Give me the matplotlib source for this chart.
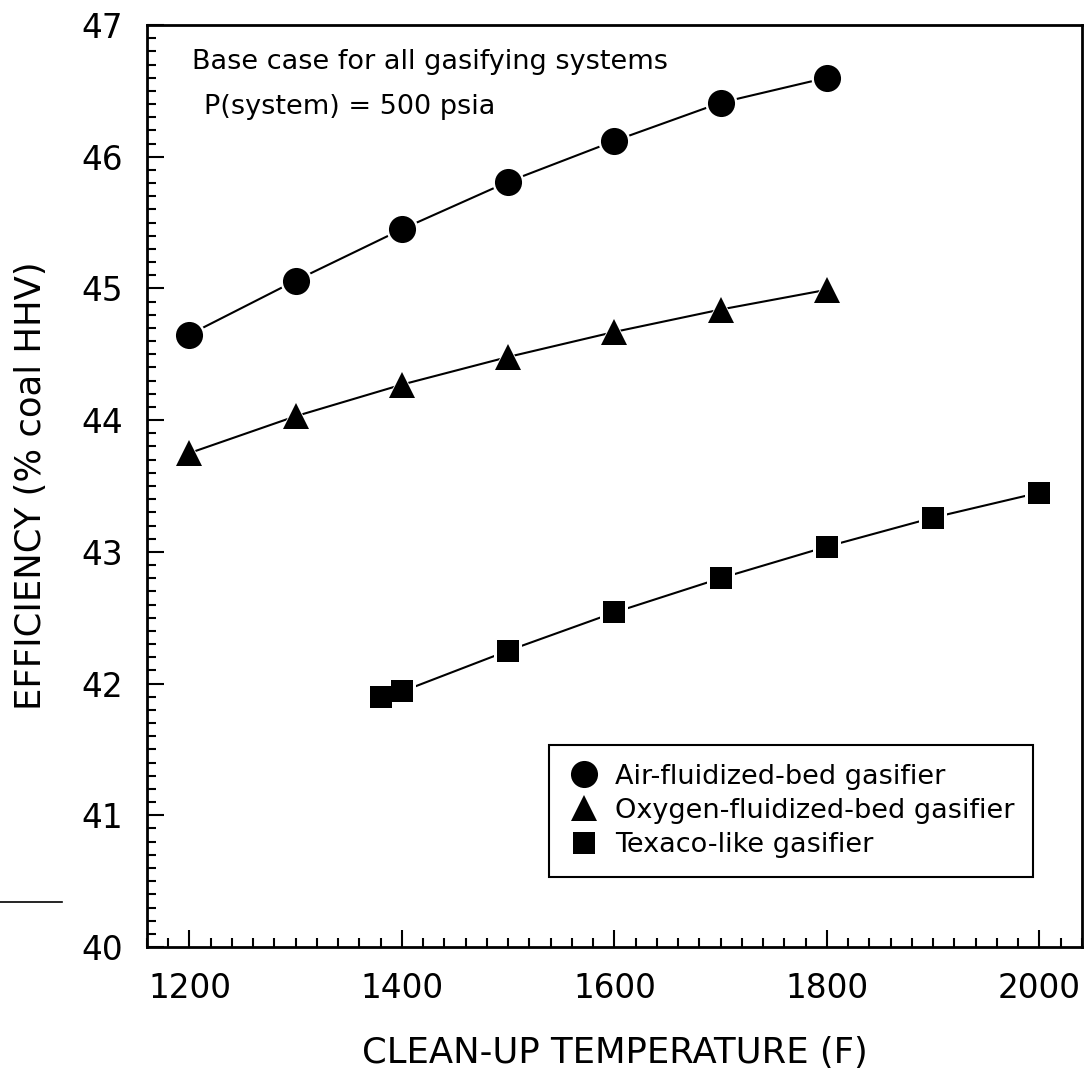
import matplotlib
matplotlib.use("Agg")
import matplotlib.pyplot as plt
from matplotlib.lines import Line2D
from matplotlib.ticker import MultipleLocator

# values
temp_air = [1200, 1300, 1400, 1500, 1600, 1700, 1800]
eff_air = [44.65, 45.06, 45.45, 45.81, 46.12, 46.41, 46.60]

temp_oxy = [1200, 1300, 1400, 1500, 1600, 1700, 1800]
eff_oxy = [43.75, 44.03, 44.27, 44.48, 44.67, 44.84, 44.99]

temp_tex = [1380, 1400, 1500, 1600, 1700, 1800, 1900, 2000]
eff_tex = [41.90, 41.94, 42.25, 42.54, 42.80, 43.04, 43.26, 43.45]

series_labels = ["Air-fluidized-bed gasifier",
                 "Oxygen-fluidized-bed gasifier",
                 "Texaco-like gasifier"]
x_ticks = [1200, 1400, 1600, 1800, 2000]
y_ticks = [40, 41, 42, 43, 44, 45, 46, 47]

plt.rcParams['font.family'] = ['DejaVu Sans']

fig = plt.figure(figsize=(10.91, 10.73), dpi=100)
ax = fig.add_axes([0.1347, 0.1174, 0.8570, 0.8593])

# marker e dimensione (pt); l'alone bianco stacca la linea dal simbolo
styles = [('o', 19.5), ('^', 18.5), ('s', 16)]
halo = 3.5
data = [(temp_air, eff_air), (temp_oxy, eff_oxy), (temp_tex, eff_tex)]

handles = []
for (xs, ys), (mk, ms), lab in zip(data, styles, series_labels):
    ax.plot(xs, ys, color='k', lw=1.5, zorder=2)
    ax.plot(xs, ys, ls='none', marker=mk, ms=ms + halo, mfc='white',
            mec='white', mew=0, zorder=3)
    ax.plot(xs, ys, ls='none', marker=mk, ms=ms, mfc='k', mec='k', mew=0,
            zorder=4)
    handles.append(Line2D([], [], ls='none', marker=mk, ms=ms, mfc='k',
                          mec='k', mew=0, label=lab))

ax.set_xlim(1160, 2040)
ax.set_ylim(40, 47)
ax.set_xticks(x_ticks)
ax.set_yticks(y_ticks)
ax.xaxis.set_minor_locator(MultipleLocator(20))
ax.yaxis.set_minor_locator(MultipleLocator(0.1))

ax.tick_params(which='major', direction='in', length=12, width=1.5,
               labelsize=23.5, top=False, right=False)
ax.tick_params(which='minor', direction='in', length=6.5, width=1.5,
               top=False, right=False)
ax.tick_params(axis='y', which='major', pad=17)
ax.tick_params(axis='x', which='major', pad=18)

for sp in ax.spines.values():
    sp.set_linewidth(2)

ax.set_xlabel("CLEAN-UP TEMPERATURE (F)", fontsize=25.5, labelpad=22)
ax.set_ylabel("EFFICIENCY (% coal HHV)", fontsize=25.5, labelpad=24)

ax.text(0.048, 0.960, "Base case for all gasifying systems",
        transform=ax.transAxes, fontsize=19.5, ha='left', va='center')
ax.text(0.061, 0.911, "P(system) = 500 psia",
        transform=ax.transAxes, fontsize=19.5, ha='left', va='center')

leg = ax.legend(handles=handles, loc='lower right',
                bbox_to_anchor=(0.948, 0.076), fontsize=19.5,
                frameon=True, fancybox=False, framealpha=1,
                handlelength=1.2, handletextpad=0.55, borderpad=0.7,
                labelspacing=0.3, borderaxespad=0)
leg.get_frame().set_edgecolor('k')
leg.get_frame().set_linewidth(1.5)

# piccolo segno fuori dagli assi, a sinistra
fig.add_artist(Line2D([0.0, 0.057], [0.1594, 0.1594], color='k', lw=1.2))

fig.savefig("out.png", dpi=100)
